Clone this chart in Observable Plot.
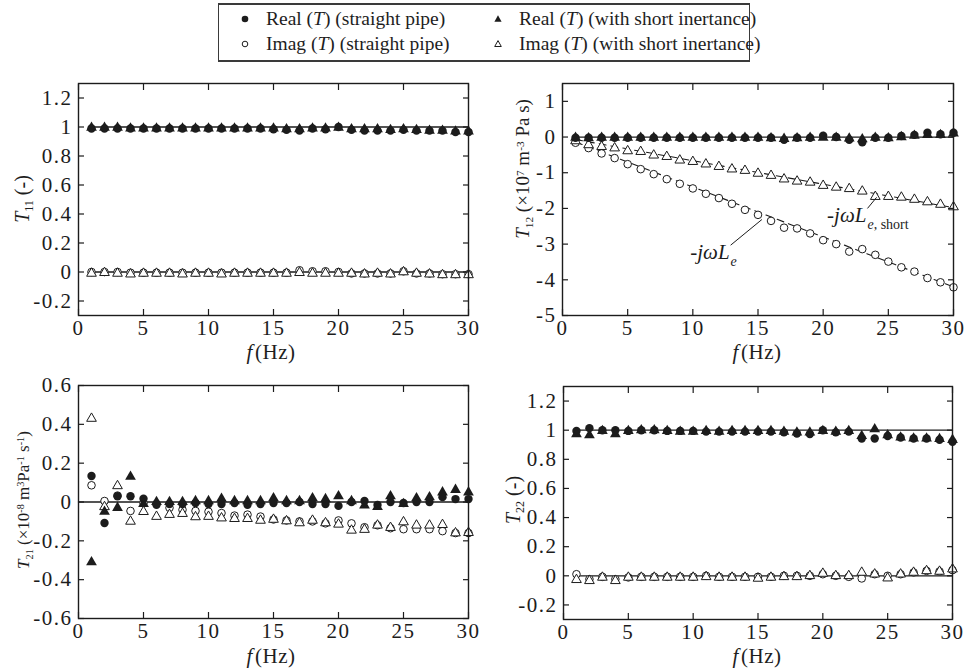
<!DOCTYPE html>
<html>
<head>
<meta charset="utf-8">
<script src="https://cdn.jsdelivr.net/npm/d3@7"></script>
<script src="https://cdn.jsdelivr.net/npm/@observablehq/plot@0.6"></script>
<style>
  html, body { margin: 0; padding: 0; background: #fff; }
  #root { position: relative; width: 965px; height: 670px; background: #fff; font-family: "Liberation Serif", "Times New Roman", serif; color: #1e1e1e; overflow: hidden; }
  .panel { position: absolute; }
  .panel svg, .panel svg text { font-family: "Liberation Serif", serif; }
  .panel svg g[aria-label="x-axis tick label"] text, .panel svg g[aria-label="y-axis tick label"] text { letter-spacing: 1.5px; }
  .ylab { position: absolute; transform: translate(-50%, -50%) rotate(-90deg); white-space: nowrap; line-height: 1; }
  .xlab { position: absolute; transform: translate(-50%, -50%); white-space: nowrap; font-size: 21px; line-height: 1; letter-spacing: 0.5px; }
  .sub { font-size: 0.6em; position: relative; top: 0.35em; }
  .sup { font-size: 0.6em; position: relative; top: -0.45em; }
  #legend { position: absolute; left: 218px; top: 3px; width: 530px; height: 55px; border: 1.5px solid #3a3a3a; border-top-width: 2.5px; border-bottom-width: 2.5px; }
  .li { position: absolute; font-size: 19.5px; white-space: nowrap; line-height: 1; transform: translateY(-50%); }
  .lsym { position: absolute; transform: translate(-50%, -50%); }
</style>
</head>
<body>
<div id="root">
  <div id="legend"></div>
</div>
<script>
// ---------- data ----------
const freq = [1,2,3,4,5,6,7,8,9,10,11,12,13,14,15,16,17,18,19,20,21,22,23,24,25,26,27,28,29,30];
const xTicks = [0, 5, 10, 15, 20, 25, 30];

// T11
const t11RealPipe  = [0.99,0.99,0.99,0.99,0.99,0.99,0.99,0.99,0.99,0.99,0.99,0.99,0.99,0.99,0.985,0.98,0.975,0.99,0.985,1.0,0.98,0.975,0.975,0.975,0.98,0.975,0.975,0.975,0.965,0.965];
const t11RealShort = [0.995,0.995,0.995,0.99,0.99,0.99,0.99,0.99,0.99,0.99,0.99,0.99,0.99,0.99,0.99,0.985,0.985,0.99,0.99,0.995,0.985,0.985,0.985,0.98,0.985,0.98,0.975,0.975,0.97,0.97];
const t11ImagPipe  = [0,0,0,-0.005,-0.005,-0.005,-0.005,-0.005,-0.005,-0.005,-0.005,-0.005,-0.005,-0.005,-0.005,-0.005,0.012,0.005,0.005,0,-0.01,-0.01,-0.01,-0.01,0.005,-0.01,-0.01,-0.015,-0.015,-0.015];
const t11ImagShort = [-0.01,-0.005,-0.01,-0.015,-0.01,-0.01,-0.01,-0.015,-0.01,-0.01,-0.015,-0.01,-0.01,-0.01,-0.01,-0.01,-0.005,-0.01,-0.01,-0.01,-0.01,-0.015,-0.01,-0.015,0,-0.01,-0.015,-0.02,-0.02,-0.02];
const t11ModelF = [1, 30];
const t11ModelReal = [1, 1];
const t11ModelImag = [0, 0];
const t11YTicks = [-0.2, 0, 0.2, 0.4, 0.6, 0.8, 1, 1.2];

// T12
const t12RealPipe  = [-0.02,-0.02,-0.02,-0.02,-0.02,-0.02,-0.02,-0.02,-0.02,-0.02,-0.02,-0.02,-0.02,-0.02,-0.02,-0.02,-0.08,-0.02,-0.02,0.04,0,-0.08,-0.15,-0.02,-0.02,0.03,0.06,0.12,0.08,0.12];
const t12RealShort = [-0.02,-0.03,-0.02,-0.02,-0.02,-0.02,-0.02,-0.02,-0.02,-0.02,-0.02,-0.02,-0.02,-0.02,-0.02,-0.03,-0.05,-0.03,-0.02,-0.02,-0.02,-0.04,-0.06,-0.02,-0.03,0,0.04,0.06,0.06,0.1];
const t12ImagPipe  = [-0.16,-0.31,-0.46,-0.59,-0.76,-0.9,-1.04,-1.18,-1.31,-1.44,-1.59,-1.71,-1.87,-2.04,-2.18,-2.35,-2.54,-2.56,-2.7,-2.89,-3.0,-3.21,-3.14,-3.3,-3.49,-3.65,-3.77,-3.95,-4.07,-4.21];
const t12ImagShort = [-0.11,-0.22,-0.27,-0.31,-0.39,-0.41,-0.51,-0.55,-0.65,-0.69,-0.76,-0.83,-0.9,-0.94,-1.02,-1.08,-1.18,-1.24,-1.27,-1.36,-1.41,-1.45,-1.52,-1.67,-1.67,-1.69,-1.75,-1.82,-1.89,-1.96];
const t12ModelF = [1, 30];
const t12ModelReal = [0, 0];
const t12FitLe = [-0.14, -4.2];
const t12FitLeShort = [-0.07, -1.98];
const t12YTicks = [-5, -4, -3, -2, -1, 0, 1];
// annotations (-jωL_e and -jωL_e,short)
const annMain = ["-jωL", "-jωL"];
const annSub = ["e", "e, short"];
const annTextF = [9.8, 20.3];
const annTextV = [-3.22, -2.19];
const annLeadF1 = [12.9, 23.4];
const annLeadV1 = [-3.03, -2.0];
const annLeadF2 = [15.3, 24.1];
const annLeadV2 = [-2.31, -1.69];

// T21
const t21RealPipe  = [0.134,-0.108,0.03,0.03,0.017,-0.014,-0.01,-0.01,-0.005,-0.01,-0.01,-0.005,-0.014,-0.01,-0.005,-0.005,0,-0.01,-0.01,-0.02,0,0.005,-0.015,0,-0.005,0,0,0.025,0.015,0.015];
const t21RealShort = [-0.31,-0.05,-0.03,0.13,-0.01,0,0,0,0.005,0.005,0.017,0.005,0.005,0.005,0.02,0.005,0.005,0.02,0.015,0.03,0.005,-0.017,-0.025,0.03,-0.01,0.02,0.025,0.05,0.063,0.05];
const t21ImagPipe  = [0.086,0.005,0.033,-0.046,-0.005,-0.01,-0.03,-0.04,-0.046,-0.05,-0.057,-0.07,-0.065,-0.075,-0.09,-0.095,-0.1,-0.1,-0.11,-0.095,-0.11,-0.13,-0.12,-0.135,-0.14,-0.14,-0.14,-0.15,-0.16,-0.16];
const t21ImagShort = [0.43,-0.025,0.083,-0.1,-0.05,-0.075,-0.065,-0.06,-0.077,-0.075,-0.083,-0.086,-0.086,-0.095,-0.09,-0.098,-0.108,-0.095,-0.108,-0.115,-0.146,-0.142,-0.12,-0.132,-0.103,-0.12,-0.12,-0.117,-0.16,-0.158];
const t21ModelF = [0, 30];
const t21Model = [0, 0];
const t21YTicks = [-0.6, -0.4, -0.2, 0, 0.2, 0.4, 0.6];

// T22
const t22RealPipe  = [0.995,1.014,1.0,1.0,0.995,1.0,1.0,0.995,0.995,0.995,0.99,0.99,0.99,0.99,0.99,0.99,0.985,0.977,0.973,1.0,0.985,0.99,0.943,0.943,0.96,0.95,0.943,0.943,0.934,0.92];
const t22RealShort = [0.973,0.966,0.995,0.973,0.995,1.0,1.0,0.995,0.99,0.99,0.995,0.99,0.995,0.995,0.995,0.995,0.99,0.985,0.985,0.995,0.99,0.995,0.96,1.007,0.966,0.95,0.943,0.943,0.94,0.934];
const t22ImagPipe  = [0.011,-0.023,-0.007,-0.023,-0.011,-0.007,-0.007,-0.007,-0.007,-0.007,0,-0.007,-0.007,-0.007,-0.007,-0.007,0,0,0,0.011,0,-0.007,-0.018,0.011,0,0.011,0.023,0.034,0.03,0.039];
const t22ImagShort = [-0.027,-0.034,-0.011,-0.034,-0.011,-0.011,-0.011,-0.011,-0.011,-0.011,-0.007,-0.011,-0.011,-0.011,-0.018,-0.011,-0.007,-0.007,0,0.016,0,0,0.023,0.011,-0.016,0.011,0.023,0.034,0.03,0.046];
const t22ModelF = [1, 30];
const t22ModelReal = [1, 1];
const t22ModelImag = [0, 0];
const t22YTicks = [-0.2, 0, 0.2, 0.4, 0.6, 0.8, 1, 1.2];

// legend labels
const legendLabels = [
  ["Real", "(straight pipe)"],
  ["Imag", "(straight pipe)"],
  ["Real", "(with short inertance)"],
  ["Imag", "(with short inertance)"]
];

// ---------- drawing ----------
const ink = "#1c1c1c";
const serif = "Liberation Serif";
const root = document.getElementById("root");
const fmt = d => String(d);

function seriesMarks(rp, rs, ip, is) {
  return [
    Plot.dot(freq, {x: freq, y: ip, symbol: "circle", r: 3.8, fill: "white", stroke: ink, strokeWidth: 1}),
    Plot.dot(freq, {x: freq, y: is, symbol: "triangle", r: 3.6, fill: "white", stroke: ink, strokeWidth: 1}),
    Plot.dot(freq, {x: freq, y: rp, symbol: "circle", r: 4.2, fill: ink, stroke: "none"}),
    Plot.dot(freq, {x: freq, y: rs, symbol: "triangle", r: 4.0, fill: ink, stroke: "none"})
  ];
}

function panel({left, top, width, height, ml, mr, mt, mb, yDomain, yTicks, marks}) {
  const chart = Plot.plot({
    width, height,
    marginLeft: ml, marginRight: mr, marginTop: mt, marginBottom: mb,
    style: {fontFamily: serif, fontSize: "20px", color: ink, background: "transparent", overflow: "visible"},
    x: {domain: [0, 30]},
    y: {domain: yDomain},
    marks: [
      ...marks,
      Plot.axisX(xTicks, {anchor: "bottom", tickSize: -6, tickPadding: 11, tickFormat: fmt, label: null, stroke: ink, strokeWidth: 1.2, fill: ink, fontFamily: serif, fontSize: 21}),
      Plot.axisX(xTicks, {anchor: "top", tickSize: -6, tickFormat: () => "", label: null, stroke: ink, strokeWidth: 1.2}),
      Plot.axisY(yTicks, {anchor: "left", tickSize: -6, tickPadding: 12, tickFormat: fmt, label: null, stroke: ink, strokeWidth: 1.2, fill: ink, fontFamily: serif, fontSize: 21}),
      Plot.axisY(yTicks, {anchor: "right", tickSize: -6, tickFormat: () => "", label: null, stroke: ink, strokeWidth: 1.2}),
      Plot.frame({stroke: ink, strokeWidth: 1.4})
    ]
  });
  const div = document.createElement("div");
  div.className = "panel";
  div.style.left = left + "px";
  div.style.top = top + "px";
  div.appendChild(chart);
  root.appendChild(div);
  return chart;
}

// T11
panel({left: 0, top: 65, width: 480, height: 300, ml: 78, mr: 12, mt: 18, mb: 50,
  yDomain: [-0.3, 1.3], yTicks: t11YTicks,
  marks: [
    Plot.line(t11ModelF, {x: t11ModelF, y: t11ModelReal, stroke: ink, strokeWidth: 1.3}),
    Plot.line(t11ModelF, {x: t11ModelF, y: t11ModelImag, stroke: ink, strokeWidth: 1.3}),
    ...seriesMarks(t11RealPipe, t11RealShort, t11ImagPipe, t11ImagShort)
  ]});

// T12
const c12 = panel({left: 480, top: 65, width: 485, height: 300, ml: 82, mr: 12, mt: 18, mb: 50,
  yDomain: [-5, 1.5], yTicks: t12YTicks,
  marks: [
    Plot.line(t12ModelF, {x: t12ModelF, y: t12ModelReal, stroke: ink, strokeWidth: 1.3}),
    Plot.line(t12ModelF, {x: t12ModelF, y: t12FitLe, stroke: ink, strokeWidth: 1.1, strokeDasharray: "7,5"}),
    Plot.line(t12ModelF, {x: t12ModelF, y: t12FitLeShort, stroke: ink, strokeWidth: 1.1, strokeDasharray: "7,5"}),
    ...seriesMarks(t12RealPipe, t12RealShort, t12ImagPipe, t12ImagShort),
    Plot.link(annMain, {x1: annLeadF1, y1: annLeadV1, x2: annLeadF2, y2: annLeadV2, stroke: ink, strokeWidth: 1}),
    Plot.text(annMain, {x: annTextF, y: annTextV, text: annMain, textAnchor: "start", fontSize: 21, fontStyle: "italic", fontFamily: serif, fill: ink})
  ]});
// subscripts for annotations
d3.select(c12).selectAll('g[aria-label="text"] text').each(function(_, i) {
  const t = d3.select(this);
  const parts = annSub[i].split(",");
  t.append("tspan").attr("dy", "0.5em").attr("font-size", "14px").attr("dx", "1").text(parts[0]);
  if (parts.length > 1) t.append("tspan").attr("font-size", "14px").attr("font-style", "normal").text("," + parts.slice(1).join(","));
});

// T21
panel({left: 0, top: 365, width: 480, height: 305, ml: 78, mr: 12, mt: 20, mb: 52,
  yDomain: [-0.6, 0.6], yTicks: t21YTicks,
  marks: [
    Plot.line(t21ModelF, {x: t21ModelF, y: t21Model, stroke: ink, strokeWidth: 1.3}),
    ...seriesMarks(t21RealPipe, t21RealShort, t21ImagPipe, t21ImagShort)
  ]});

// T22
panel({left: 480, top: 365, width: 485, height: 305, ml: 83, mr: 13, mt: 21, mb: 51,
  yDomain: [-0.3, 1.3], yTicks: t22YTicks,
  marks: [
    Plot.line(t22ModelF, {x: t22ModelF, y: t22ModelReal, stroke: ink, strokeWidth: 1.3}),
    Plot.line(t22ModelF, {x: t22ModelF, y: t22ModelImag, stroke: ink, strokeWidth: 1.3}),
    ...seriesMarks(t22RealPipe, t22RealShort, t22ImagPipe, t22ImagShort)
  ]});

// axis titles
function addLabel(cls, x, y, html, size) {
  const d = document.createElement("div");
  d.className = cls;
  d.style.left = x + "px";
  d.style.top = y + "px";
  if (size) d.style.fontSize = size + "px";
  d.innerHTML = html;
  root.appendChild(d);
}
const fHz = '<i>f</i>&#8202;(Hz)';
addLabel("xlab", 271, 352, fHz);
addLabel("xlab", 757, 352, fHz);
addLabel("xlab", 271, 656, fHz);
addLabel("xlab", 757, 656, fHz);
addLabel("ylab", 22, 199, '<i>T</i><span class="sub">11</span> (-)', 20);
addLabel("ylab", 522, 169, '<i>T</i><span class="sub">12</span> (×10<span class="sup">7</span> m<span class="sup">-3</span> Pa s)', 19);
addLabel("ylab", 23, 500, '<i>T</i><span class="sub">21</span> (×10<span class="sup">-8</span> m<span class="sup">3</span>Pa<span class="sup">-1</span> s<span class="sup">-1</span>)', 17);
addLabel("ylab", 513, 500, '<i>T</i><span class="sub">22</span> (-)', 20);

// legend
const legend = document.getElementById("legend");
const symSvg = {
  circleFilled: '<svg width="10" height="10"><circle cx="5" cy="5" r="3.3" fill="' + ink + '"/></svg>',
  circleOpen: '<svg width="10" height="10"><circle cx="5" cy="5" r="2.8" fill="white" stroke="' + ink + '" stroke-width="1"/></svg>',
  triFilled: '<svg width="10" height="10"><path d="M5,1.2L8.6,7.8H1.4Z" fill="' + ink + '"/></svg>',
  triOpen: '<svg width="10" height="10"><path d="M5,1.6L8.3,7.5H1.7Z" fill="white" stroke="' + ink + '" stroke-width="1"/></svg>'
};
const legItems = [
  {sym: symSvg.circleFilled, sx: 26, tx: 47, y: 14, lab: legendLabels[0]},
  {sym: symSvg.circleOpen, sx: 26, tx: 47, y: 39, lab: legendLabels[1]},
  {sym: symSvg.triFilled, sx: 279, tx: 300, y: 14, lab: legendLabels[2]},
  {sym: symSvg.triOpen, sx: 279, tx: 300, y: 39, lab: legendLabels[3]}
];
for (const it of legItems) {
  const s = document.createElement("div");
  s.className = "lsym";
  s.style.left = it.sx + "px";
  s.style.top = it.y + "px";
  s.innerHTML = it.sym;
  legend.appendChild(s);
  const t = document.createElement("div");
  t.className = "li";
  t.style.left = it.tx + "px";
  t.style.top = it.y + "px";
  t.innerHTML = it.lab[0] + " (<i>T</i>) " + it.lab[1];
  legend.appendChild(t);
}
</script>
</body>
</html>
